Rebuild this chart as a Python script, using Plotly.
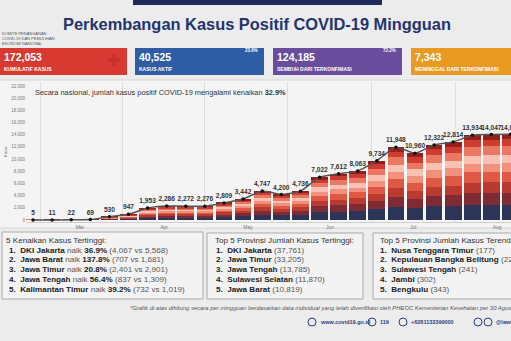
import plotly.graph_objects as go

W, H = 511, 341

# ---------------- data ----------------
weekly_cases = [5, 11, 22, 69, 530, 947, 1953, 2286, 2272, 2276, 2809, 3442, 4747,
                4200, 4736, 7022, 7612, 8063, 9734, 11948, 10960, 12322, 12814,
                13934, 14047, 14064]
months = ["Mar", "Apr", "May", "Jun", "Jul", "Aug"]
month_pos = [2.46, 6.86, 11.26, 15.55, 19.9, 24.3]
month_grid = [0.37, 4.71, 9.0, 13.35, 17.7, 22.1]
y_ticks = list(range(0, 22001, 2000))

# layer composition of each weekly bar (bottom -> top)
layer_share = [0.18, 0.14, 0.12, 0.12, 0.10, 0.10, 0.10, 0.08, 0.06]
layer_colors = ["#2c3557", "#7e2b36", "#b93a31", "#de5843", "#f0917d",
                "#f8c1b3", "#ea7863", "#cc3d30", "#951f1b"]

stat_values = ["172,053", "40,525", "124,185", "7,343"]
stat_labels = ["KUMULATIF KASUS", "KASUS AKTIF", "SEMBUH DARI TERKONFIMASI",
               "MENINGGAL DARI TERKONFIMASI"]
stat_pct = ["", "23.6%", "72.2%", ""]

rise_prov = ["DKI Jakarta", "Jawa Barat", "Jawa Timur", "Jawa Tengah", "Kalimantan Timur"]
rise_pct = ["36.9%", "137.8%", "20.8%", "56.4%", "39.2%"]
rise_prev = ["4,067", "707", "2,401", "837", "732"]
rise_now = ["5,568", "1,681", "2,901", "1,309", "1,019"]

top_prov = ["DKI Jakarta", "Jawa Timur", "Jawa Tengah", "Sulawesi Selatan", "Jawa Barat"]
top_val = ["37,761", "33,205", "13,785", "11,870", "10,819"]

low_prov = ["Nusa Tenggara Timur", "Kepulauan Bangka Belitung", "Sulawesi Tengah", "Jambi", "Bengkulu"]
low_val = ["177", "224", "241", "302", "343"]

# ---------------- helpers ----------------
def px(x):
    return x / W

def py(y):
    return 1 - y / H

X0, STEP = 33.0, 19.1
x_idx = list(range(len(weekly_cases)))

fig = go.Figure()
for share, col in zip(layer_share, layer_colors):
    fig.add_bar(x=x_idx, y=[v * share for v in weekly_cases], marker_color=col,
                marker_line_width=0, showlegend=False, hoverinfo="skip")

fig.add_scatter(x=x_idx, y=weekly_cases, mode="lines+markers+text",
                text=[f"{v:,}" for v in weekly_cases], texttemplate="<b>%{text}</b>",
                textposition="top center",
                textfont=dict(size=6.6, color="#333333"),
                line=dict(shape="spline", smoothing=0.6, color="#555555", width=1.5),
                marker=dict(size=3.5, color="#111111"),
                cliponaxis=False, showlegend=False, hoverinfo="skip")

shapes = []
anns = []

def rect(x0, y0, x1, y1, fill, line=None, lw=0):
    shapes.append(dict(type="rect", xref="paper", yref="paper", x0=px(x0), x1=px(x1),
                       y0=py(y1), y1=py(y0), fillcolor=fill,
                       line=dict(color=line or fill, width=lw), layer="below"))

def text(x, y, s, size, color="#222222", xanchor="left", bold=False, italic=False, angle=0):
    if bold:
        s = f"<b>{s}</b>"
    if italic:
        s = f"<i>{s}</i>"
    anns.append(dict(xref="paper", yref="paper", x=px(x), y=py(y), text=s, showarrow=False,
                     xanchor=xanchor, yanchor="middle", textangle=angle,
                     font=dict(size=size, color=color)))

# chart panel
rect(-2, 80, 513, 228, "#f4f4f4", "#d0d0d0", 0.8)
# top navy bar
rect(133, -2, 382, 5, "#1f2a5c")
# title
text(257, 24, "Perkembangan Kasus Positif COVID-19 Mingguan", 16.4, "#24346e", "center", bold=True)
for i, s in enumerate(["KOMITE PENANGANAN", "COVID-19 DAN PEMULIHAN", "EKONOMI NASIONAL"]):
    text(0, 33 + i * 5, s, 4, "#555555")

# stat boxes
box_x = [(-2, 127), (135, 264), (273, 402), (411, 513)]
box_col = ["#d83a31", "#2f5da5", "#6a4c9c", "#e99a22"]
for (a, b), c, v, l, p in zip(box_x, box_col, stat_values, stat_labels, stat_pct):
    rect(a, 48, b, 75, c)
    text(max(a, 0) + 2, 57, v, 10.5, "#ffffff", bold=True)
    text(max(a, 0) + 2, 69, l, 5, "#ffffff", bold=True)
    if p:
        text(b - 4, 51, p, 4.5, "#ffffff", "right", bold=True)
text(113, 60, "✚", 16, "#c23028", "center")

# subtitle inside chart
text(33, 92, "Secara nasional, jumlah kasus positif COVID-19 mengalami kenaikan <b>32.9%</b>",
     7.4, "#333333")
# y axis label
text(5, 152, "Kasus", 4, "#666666", "center", angle=-90)

# bottom boxes
rect(2, 232, 203, 299, "#f3f3f3", "#aaaaaa", 1)
rect(207, 233, 363, 299, "#f3f3f3", "#aaaaaa", 1)
rect(373, 233, 516, 299, "#f3f3f3", "#aaaaaa", 1)

line_y = [240, 250, 259.5, 269, 279, 289]
FS = 8.1
text(4, line_y[0], "5 Kenaikan Kasus Tertinggi:", FS, "#333333")
for i in range(5):
    s = (f"<b>{i+1}.  {rise_prov[i]}</b> <span style='color:#555'>naik</span> "
         f"<b>{rise_pct[i]}</b> <span style='color:#555'>({rise_prev[i]} vs {rise_now[i]})</span>")
    text(7, line_y[i + 1], s, FS, "#222222")

text(213, line_y[0], "Top 5 Provinsi Jumlah Kasus Tertinggi:", FS, "#333333")
for i in range(5):
    s = f"<b>{i+1}.  {top_prov[i]}</b> <span style='color:#555'>({top_val[i]})</span>"
    text(214, line_y[i + 1], s, FS, "#222222")

text(378, line_y[0], "Top 5 Provinsi Jumlah Kasus Terendah:", FS, "#333333")
for i in range(5):
    s = f"<b>{i+1}.  {low_prov[i]}</b> <span style='color:#555'>({low_val[i]})</span>"
    text(378, line_y[i + 1], s, FS, "#222222")

# footnote
text(128, 308, "*Grafik di atas dihitung secara per mingguan berdasarkan data individual yang telah "
     "diverifikasi oleh PHEOC Kementerian Kesehatan per 30 Agustus 2020", 5.9, "#555555", italic=True)

# footer contacts
for cx in [312, 372, 403, 478, 488]:
    shapes.append(dict(type="circle", xref="paper", yref="paper", x0=px(cx - 4), x1=px(cx + 4),
                       y0=py(326), y1=py(318), line=dict(color="#2b3f86", width=1),
                       fillcolor="rgba(0,0,0,0)"))
text(318, 322, "www.covid19.go.id", 5.5, "#2b3f86", bold=True)
text(378, 322, "119", 5.5, "#2b3f86", bold=True)
text(409, 322, "+6281133399000", 5.5, "#2b3f86", bold=True)
text(494, 322, "@lawancovid19_id", 5.5, "#2b3f86", bold=True)

fig.update_layout(
    width=W, height=H, margin=dict(l=0, r=0, t=0, b=0),
    paper_bgcolor="#ececec", plot_bgcolor="rgba(0,0,0,0)",
    barmode="stack", bargap=0.13,
    font=dict(family="Liberation Sans, Arial, sans-serif"),
    shapes=shapes, annotations=anns,
    xaxis=dict(domain=[px(26), 1], range=[(26 - X0) / STEP, (W - X0) / STEP],
               tickvals=month_pos, ticktext=months, tickfont=dict(size=5, color="#777777"),
               showgrid=False, zeroline=False, ticks="",
               showline=True, linecolor="#cfcfcf", linewidth=1,
               minor=dict(tickvals=month_grid, showgrid=True, gridcolor="#dddddd",
                          gridwidth=1, ticks="")),
    yaxis=dict(domain=[py(222), py(82)], range=[-330, 22660],
               tickvals=y_ticks, tickformat=",", tickfont=dict(size=4.5, color="#777777"),
               showgrid=False, zeroline=False, ticks=""),
)

fig.write_html("out.html")
